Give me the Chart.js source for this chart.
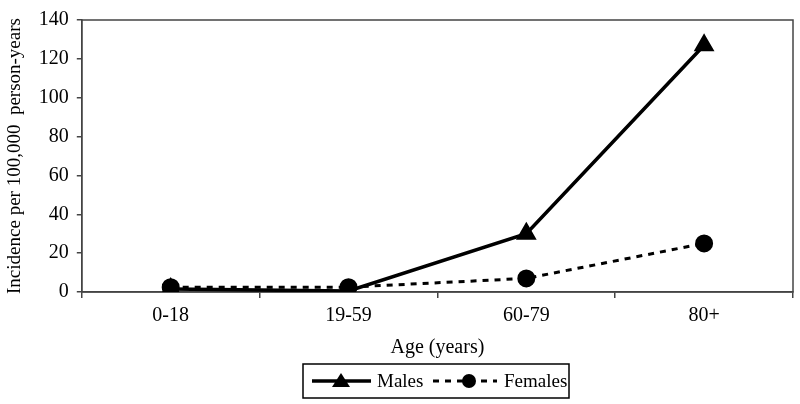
<!DOCTYPE html>
<html>
<head>
<meta charset="utf-8">
<script src="https://cdn.jsdelivr.net/npm/chart.js@4"></script>
<style>
  html, body { margin: 0; padding: 0; background: #fff; }
  #wrap { width: 800px; height: 404px; position: relative; }
</style>
</head>
<body>
<div id="wrap"><canvas id="chart"></canvas></div>
<script>
// age groups and incidence per 100,000 person-years
const ageGroups = ['0-18', '19-59', '60-79', '80+'];
const males = [1.5, 0.5, 30, 127];
const females = [2.5, 2.5, 7, 25];
const yTicks = [0, 20, 40, 60, 80, 100, 120, 140];

const FONT = "'Liberation Serif', 'Times New Roman', serif";

// legend box drawn under the axis title (line sample + marker, like the original)
const legendBox = {
  id: 'legendBox',
  afterDraw(chart) {
    const ctx = chart.ctx;
    const x0 = 303, y0 = 364, w = 266, h = 34;
    const cy = y0 + h / 2;
    ctx.save();
    ctx.strokeStyle = '#000';
    ctx.lineWidth = 1.5;
    ctx.strokeRect(x0, y0, w, h);

    // Males sample
    ctx.lineWidth = 3.5;
    ctx.beginPath();
    ctx.moveTo(312, cy);
    ctx.lineTo(371, cy);
    ctx.stroke();
    ctx.fillStyle = '#000';
    ctx.beginPath();
    ctx.moveTo(341, cy - 8);
    ctx.lineTo(350, cy + 6);
    ctx.lineTo(332, cy + 6);
    ctx.closePath();
    ctx.fill();

    // Females sample
    ctx.lineWidth = 3;
    ctx.setLineDash([6, 6]);
    ctx.beginPath();
    ctx.moveTo(433, cy);
    ctx.lineTo(497, cy);
    ctx.stroke();
    ctx.setLineDash([]);
    ctx.beginPath();
    ctx.arc(469, cy, 7, 0, Math.PI * 2);
    ctx.fill();

    ctx.font = '19px ' + FONT;
    ctx.textBaseline = 'middle';
    ctx.fillText('Males', 377, cy + 1);
    ctx.fillText('Females', 504, cy + 1);
    ctx.restore();
  }
};

// plot frame (top and right sides)
const frame = {
  id: 'frame',
  beforeDatasetsDraw(chart) {
    const { ctx, chartArea: a } = chart;
    ctx.save();
    ctx.strokeStyle = '#444';
    ctx.lineWidth = 1.5;
    ctx.strokeRect(a.left, a.top, a.right - a.left, a.bottom - a.top);
    ctx.restore();
  }
};

new Chart(document.getElementById('chart'), {
  type: 'line',
  data: {
    labels: ageGroups,
    datasets: [
      {
        label: 'Males',
        data: males,
        borderColor: '#000',
        backgroundColor: '#000',
        borderWidth: 3.5,
        pointStyle: 'triangle',
        pointRadius: 8.5,
        pointHoverRadius: 8.5,
        tension: 0
      },
      {
        label: 'Females',
        data: females,
        borderColor: '#000',
        backgroundColor: '#000',
        borderWidth: 3,
        borderDash: [6, 6],
        pointStyle: 'circle',
        pointRadius: 7.5,
        pointHoverRadius: 7.5,
        tension: 0
      }
    ]
  },
  options: {
    responsive: true,
    maintainAspectRatio: false,
    animation: false,
    layout: { autoPadding: false, padding: { top: 3, right: 7, left: 4, bottom: 44 } },
    plugins: {
      legend: { display: false },
      tooltip: { enabled: false }
    },
    scales: {
      x: {
        offset: true,
        grid: {
          display: true,
          offset: true,
          drawOnChartArea: false,
          drawTicks: true,
          tickLength: 6,
          color: '#444',
          lineWidth: 1.5
        },
        border: { color: '#444', width: 1.5 },
        ticks: { color: '#000', font: { family: FONT, size: 20 }, padding: 6 },
        title: {
          display: true,
          text: 'Age (years)',
          color: '#000',
          font: { family: FONT, size: 20 },
          padding: { top: 2, bottom: 0 }
        }
      },
      y: {
        min: 0,
        max: 140,
        afterBuildTicks: axis => { axis.ticks = yTicks.map(v => ({ value: v })); },
        grid: {
          drawOnChartArea: false,
          tickLength: 5,
          color: '#444',
          lineWidth: 1.5
        },
        border: { color: '#444', width: 1.5 },
        ticks: { color: '#000', font: { family: FONT, size: 20 }, padding: 8 },
        title: {
          display: true,
          text: 'Incidence per 100,000  person-years',
          color: '#000',
          font: { family: FONT, size: 19 },
          padding: { top: 0, bottom: 4 }
        }
      }
    }
  },
  plugins: [frame, legendBox]
});
</script>
</body>
</html>
